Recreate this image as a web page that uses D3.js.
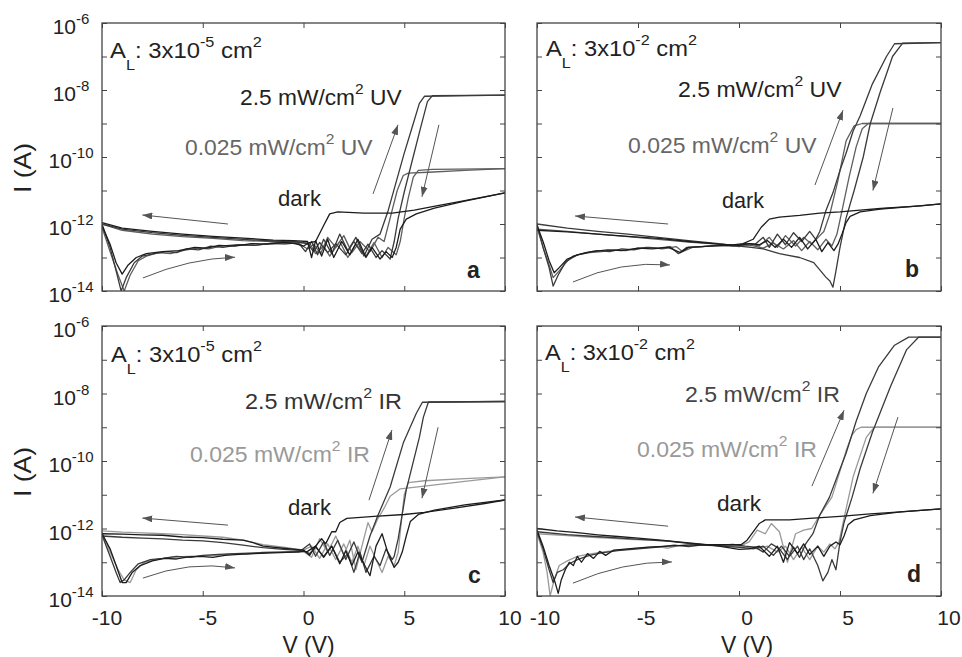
<!DOCTYPE html>
<html><head><meta charset="utf-8">
<script src="https://cdn.jsdelivr.net/npm/d3@7"></script>
<style>
body{margin:0;background:#fff}
svg{display:block}
text{font-family:"Liberation Sans",Arial,Helvetica,sans-serif}
</style>
</head><body>
<svg id="chart" width="962" height="657"></svg>
<script>
// ---------------- DATA (V in volts, I in amperes) ----------------
const V_TICKS = [-10, -5, 0, 5, 10];
const I_TICKS = [1e-14, 1e-13, 1e-12, 1e-11, 1e-10, 1e-9, 1e-8, 1e-7, 1e-6];
const I_LABEL_EXP = [-14, -12, -10, -8, -6];
const X_LABELS = ["-10", "-5", "0", "5", "10"];

// Panel a : A_L 3x10^-5 cm^2, UV
const aDarkF = [[-10,9e-13],[-9.6,2.5e-13],[-9.3,7e-14],[-9.0,3.2e-14],[-8.7,6e-14],[-8.3,1e-13],[-7.8,1.3e-13],[-7,1.5e-13],[-6.2,1.6e-13],[-5.4,2e-13],[-4.8,1.9e-13],[-4.2,2.3e-13],[-3.4,2.2e-13],[-2.6,2.6e-13],[-1.8,2.5e-13],[-1,2.8e-13],[-0.4,2.6e-13],[0,2.2e-13],[0.3,2.8e-13],[0.6,3e-13],[1.0,9e-13],[1.3,2e-12],[1.7,2.3e-12],[3,2.1e-12],[4.4,2.1e-12],[5.5,2.6e-12],[6.4,3.3e-12],[8,5e-12],[10,8.5e-12]];
const aDarkB = [[10,8.5e-12],[8,4.8e-12],[6.5,3e-12],[5.6,2e-12],[5.1,1.4e-12],[4.8,7e-13],[4.6,2e-13],[4.4,1e-13],[4.1,1.5e-13],[3.8,9e-14],[3.4,2e-13],[3.1,1e-13],[2.7,3.5e-13],[2.3,1.2e-13],[1.9,3e-13],[1.5,1e-13],[1.2,3.5e-13],[0.9,1.1e-13],[0.6,3.2e-13],[0.4,1e-13],[0.2,3e-13],[-0.5,3.2e-13],[-1.5,3.3e-13],[-3,3.8e-13],[-4.5,4.3e-13],[-6,5e-13],[-7.5,6e-13],[-9,7.5e-13],[-10,1.1e-12]];
const aHighF = [[-10,1e-12],[-9.6,2e-13],[-9.3,4e-14],[-9.05,1e-14],[-8.8,2.5e-14],[-8.4,7e-14],[-8,1.1e-13],[-7.4,1.3e-13],[-6.8,1.5e-13],[-6.3,1.4e-13],[-5.8,1.8e-13],[-5.2,1.7e-13],[-4.6,2.2e-13],[-4,2e-13],[-3.2,2.4e-13],[-2.4,2.3e-13],[-1.6,2.7e-13],[-0.8,2.8e-13],[-0.2,2.5e-13],[0.1,1.5e-13],[0.4,3e-13],[0.7,1.2e-13],[1.0,3.5e-13],[1.4,1.3e-13],[1.8,5e-13],[2.2,1.6e-13],[2.6,4e-13],[3.0,1.1e-13],[3.4,3.5e-13],[3.8,5e-13],[4.2,2.5e-12],[4.6,1.8e-11],[5.0,1.3e-10],[5.4,8e-10],[5.75,4e-9],[6.0,6.5e-9],[10,7e-9]];
const aHighB = [[10,7e-9],[6.4,6.8e-9],[6.15,4.5e-9],[5.8,7e-10],[5.4,8e-11],[5.0,9e-12],[4.7,1.5e-12],[4.5,3e-13],[4.3,9e-14],[3.9,1.6e-13],[3.6,1e-13],[3.2,2.5e-13],[2.9,1.3e-13],[2.5,3e-13],[2.1,1.2e-13],[1.6,2.6e-13],[1.2,1.4e-13],[0.8,2.8e-13],[0.5,1.5e-13],[0.2,2.6e-13],[-0.5,3e-13],[-1.5,3.1e-13],[-3,3.5e-13],[-4.5,4e-13],[-6,4.6e-13],[-7.5,5.5e-13],[-9,7e-13],[-10,1e-12]];
const aLowF = [[-10,8e-13],[-9.6,1.5e-13],[-9.2,3e-14],[-8.9,1e-14],[-8.6,3e-14],[-8.2,8e-14],[-7.8,1.1e-13],[-7.2,1.4e-13],[-6.6,1.3e-13],[-6,1.6e-13],[-5.3,1.9e-13],[-4.7,1.8e-13],[-4.1,2.2e-13],[-3.3,2.4e-13],[-2.5,2.3e-13],[-1.7,2.6e-13],[-0.9,2.5e-13],[-0.3,2.8e-13],[0.2,1.8e-13],[0.5,2.5e-13],[0.85,1.3e-13],[1.2,4e-13],[1.6,2e-13],[2.0,4.5e-13],[2.4,1.4e-13],[2.8,3e-13],[3.3,1.5e-13],[3.7,4e-13],[4.0,3e-13],[4.3,1.5e-12],[4.65,1e-11],[4.95,2.8e-11],[5.2,3.3e-11],[6.2,3.5e-11],[8,4e-11],[10,4.5e-11]];
const aLowB = [[10,4.5e-11],[6.4,4.3e-11],[5.7,4e-11],[5.45,2.5e-11],[5.2,6e-12],[5.0,1.5e-12],[4.8,3e-13],[4.6,1.2e-13],[4.2,2e-13],[3.9,1e-13],[3.5,2.8e-13],[3.1,1.1e-13],[2.6,2.5e-13],[2.2,1e-13],[1.8,3e-13],[1.3,1.1e-13],[1.0,2.2e-13],[0.6,1.3e-13],[0.3,2.7e-13],[-0.5,2.9e-13],[-1.5,3e-13],[-3,3.2e-13],[-4.5,3.7e-13],[-6,4.2e-13],[-7.5,5e-13],[-9,6.5e-13],[-10,1e-12]];

// Panel b : A_L 3x10^-2 cm^2, UV
const bDarkF = [[-10,9e-13],[-9.7,3e-13],[-9.4,8e-14],[-9.15,3.5e-14],[-8.9,5e-14],[-8.5,9e-14],[-8,1.2e-13],[-7.3,1.5e-13],[-6.5,1.7e-13],[-5.8,1.6e-13],[-5,1.9e-13],[-4.3,1.8e-13],[-3.5,2e-13],[-2.9,1.4e-13],[-2.5,2e-13],[-1.5,2.2e-13],[-0.5,2.3e-13],[0.2,2.6e-13],[0.7,3.5e-13],[1.1,8e-13],[1.5,1.4e-12],[2.0,1.6e-12],[3,1.8e-12],[4,2.1e-12],[5,2.3e-12],[6,2.6e-12],[7,2.9e-12],[8,3.2e-12],[9,3.5e-12],[10,4e-12]];
const bDarkB = [[10,4e-12],[8.5,3.3e-12],[7,2.8e-12],[6,2.3e-12],[5.5,1.7e-12],[5.3,1.1e-12],[5.1,5e-13],[4.9,2.5e-13],[4.7,1.6e-13],[4.4,2.8e-13],[4.1,1.5e-13],[3.8,3.5e-13],[3.4,1.8e-13],[3.0,4e-13],[2.6,2e-13],[2.2,3.5e-13],[1.8,2e-13],[1.4,3.2e-13],[1.0,2.4e-13],[0.5,2.6e-13],[0,2.3e-13],[-1,2.5e-13],[-2.5,3e-13],[-4,3.7e-13],[-5.5,4.3e-13],[-7,5e-13],[-8.5,5.8e-13],[-10,6.5e-13]];
const bHighF = [[-10,1e-12],[-9.7,2e-13],[-9.4,5e-14],[-9.2,1.4e-14],[-8.95,3e-14],[-8.6,7e-14],[-8.2,1.1e-13],[-7.6,1.4e-13],[-7,1.6e-13],[-6.4,1.5e-13],[-5.8,1.8e-13],[-5.2,1.7e-13],[-4.6,2e-13],[-4,1.9e-13],[-3.4,2.1e-13],[-3.0,1.3e-13],[-2.6,2e-13],[-1.8,2.1e-13],[-1,2.3e-13],[-0.3,2.2e-13],[0.3,2.6e-13],[0.8,2.5e-13],[1.2,4e-13],[1.5,2e-13],[1.9,5e-13],[2.3,2.4e-13],[2.7,5.5e-13],[3.1,3e-13],[3.5,6e-13],[3.8,3.5e-13],[4.0,6e-13],[4.3,2.5e-12],[4.65,8.5e-12],[5.0,4e-11],[5.3,1.3e-10],[5.65,6e-10],[6.0,1.7e-9],[6.6,1.5e-8],[7.3,1e-7],[7.7,2.4e-7],[10,2.6e-7]];
const bHighB = [[10,2.6e-7],[8.1,2.5e-7],[7.6,1e-7],[7.0,9e-9],[6.5,1e-9],[6.15,1e-10],[5.7,1e-11],[5.3,1.5e-12],[5.0,2e-13],[4.8,4e-14],[4.65,1.3e-14],[4.5,2e-14],[4.3,2.6e-14],[3.7,7e-14],[3.0,1e-13],[2.0,1.3e-13],[1.2,1.8e-13],[0.6,2e-13],[0,2.2e-13],[-1,2.6e-13],[-2.5,3.2e-13],[-4,4e-13],[-5.5,5e-13],[-7,6e-13],[-8.5,7.5e-13],[-10,1e-12]];
const bLowF = [[-10,8e-13],[-9.7,2e-13],[-9.4,6e-14],[-9.2,2.5e-14],[-8.9,4e-14],[-8.5,8e-14],[-8,1.2e-13],[-7.4,1.4e-13],[-6.8,1.5e-13],[-6.2,1.7e-13],[-5.6,1.6e-13],[-5,1.9e-13],[-4.4,2e-13],[-3.8,1.8e-13],[-3.1,2.1e-13],[-2.8,1.5e-13],[-2.3,2e-13],[-1.5,2.2e-13],[-0.6,2.4e-13],[0,2.1e-13],[0.5,2.6e-13],[1.0,2.2e-13],[1.5,4e-13],[1.9,2e-13],[2.3,4.5e-13],[2.8,2.2e-13],[3.2,4e-13],[3.6,2.5e-13],[4.0,4.5e-13],[4.2,6e-13],[4.5,2e-12],[4.9,2e-11],[5.3,3e-10],[5.7,8.5e-10],[6.1,1e-9],[10,1e-9]];
const bLowB = [[10,1e-9],[6.4,1e-9],[6.1,7e-10],[5.8,2e-10],[5.45,2.5e-11],[5.1,2.5e-12],[4.85,5e-13],[4.6,2.2e-13],[4.3,3.5e-13],[3.9,1.7e-13],[3.5,3e-13],[3.1,1.6e-13],[2.7,3.2e-13],[2.2,1.8e-13],[1.7,2.7e-13],[1.2,1.9e-13],[0.6,2.3e-13],[0,2.2e-13],[-1,2.5e-13],[-2.5,2.9e-13],[-4,3.5e-13],[-5.5,4.2e-13],[-7,5e-13],[-8.5,6e-13],[-10,7e-13]];

// Panel c : A_L 3x10^-5 cm^2, IR
const cDarkF = [[-10,7e-13],[-9.6,2.5e-13],[-9.3,8e-14],[-9.0,2.5e-14],[-8.8,2.5e-14],[-8.5,5e-14],[-8.1,8e-14],[-7.5,1.1e-13],[-6.9,1.3e-13],[-6.3,1.25e-13],[-5.7,1.45e-13],[-5.1,1.5e-13],[-4.5,1.4e-13],[-3.9,1.6e-13],[-3.2,1.7e-13],[-2.5,1.8e-13],[-1.5,1.9e-13],[-0.5,2e-13],[0.2,2.1e-13],[0.6,3e-13],[0.9,5e-13],[1.1,3.5e-13],[1.4,8e-13],[1.6,8e-13],[1.8,1.5e-12],[2.15,2e-12],[3.5,2.3e-12],[5,2.6e-12],[6,3e-12],[7.5,4e-12],[9,5.5e-12],[10,7e-12]];
const cDarkB = [[10,7e-12],[8,5e-12],[6.5,3.5e-12],[5.7,2.6e-12],[5.3,1.6e-12],[5.1,6e-13],[4.9,2e-13],[4.7,1e-13],[4.5,7e-14],[4.2,1.8e-13],[3.9,7e-13],[3.6,3e-13],[3.3,4e-14],[3.0,9e-14],[2.7,2e-13],[2.4,8e-14],[2.1,2.2e-13],[1.8,9e-14],[1.4,3e-13],[1.0,1.4e-13],[0.6,3e-13],[0.3,1.6e-13],[0,2.3e-13],[-1,2.6e-13],[-2,3e-13],[-2.5,3.8e-13],[-3,4.5e-13],[-4,4.8e-13],[-5,5.4e-13],[-6,5.6e-13],[-7,6.3e-13],[-8,6.5e-13],[-9,6.8e-13],[-10,7e-13]];
const cHighF = [[-10,6.5e-13],[-9.6,1.5e-13],[-9.3,5e-14],[-9.1,2.5e-14],[-8.9,3e-14],[-8.6,5e-14],[-8.2,9e-14],[-7.6,1.2e-13],[-7,1.3e-13],[-6.3,1.5e-13],[-5.6,1.4e-13],[-5.0,1.6e-13],[-4.2,1.7e-13],[-3.4,1.8e-13],[-2.4,1.9e-13],[-1.2,2e-13],[-0.2,2.05e-13],[0.3,3.5e-13],[0.6,1.5e-13],[1.0,4e-13],[1.3,1.6e-13],[1.7,4.5e-13],[2.1,1.2e-13],[2.5,4e-13],[2.9,1e-13],[3.3,6e-13],[3.7,2.5e-12],[4.3,1.7e-11],[4.95,3.4e-10],[5.6,2.6e-9],[5.9,5.5e-9],[10,5.8e-9]];
const cHighB = [[10,5.8e-9],[6.2,5.6e-9],[5.95,2e-9],[5.75,5e-10],[5.1,1.4e-11],[4.7,5e-13],[4.5,1.5e-13],[4.4,1.2e-13],[4.1,2.5e-13],[3.8,8e-14],[3.5,1.5e-13],[3.1,5e-14],[2.8,2e-13],[2.5,5e-14],[2.2,1.8e-13],[1.8,1e-13],[1.4,3e-13],[1.0,1.5e-13],[0.6,2.8e-13],[0.3,1.8e-13],[0,2.2e-13],[-1,2.4e-13],[-2,2.7e-13],[-3,3.2e-13],[-4,3.8e-13],[-5,4.3e-13],[-6,4.5e-13],[-7,4.9e-13],[-8,5.2e-13],[-9,5.5e-13],[-10,6e-13]];
const cLowF = [[-10,8e-13],[-9.6,2e-13],[-9.2,6e-14],[-8.9,3e-14],[-8.6,2.5e-14],[-8.3,6e-14],[-7.9,1e-13],[-7.3,1.2e-13],[-6.6,1.4e-13],[-5.8,1.5e-13],[-5,1.55e-13],[-4.2,1.6e-13],[-3.5,1.8e-13],[-2.8,1.7e-13],[-2,2e-13],[-1,2e-13],[0,2.1e-13],[0.4,1.4e-13],[0.8,5e-13],[1.2,2e-13],[1.6,6e-13],[2.0,1.6e-13],[2.3,4.5e-13],[2.6,6e-14],[2.9,3e-13],[3.2,1.5e-12],[3.4,8e-13],[3.7,2e-12],[4.0,4e-12],[4.3,9e-12],[4.8,1.5e-11],[6,1.8e-11],[8,2.5e-11],[10,3.4e-11]];
const cLowB = [[10,3.4e-11],[8,3e-11],[6,2.6e-11],[5.2,2.3e-11],[5.0,1e-11],[4.85,1.5e-12],[4.7,2e-13],[4.5,8e-14],[4.2,1.5e-13],[3.9,5e-14],[3.6,1.2e-13],[3.3,3e-13],[3.0,8e-14],[2.7,3e-13],[2.4,1e-13],[2.0,3.5e-13],[1.6,1.2e-13],[1.2,3.5e-13],[0.8,1.3e-13],[0.4,3e-13],[0,2.3e-13],[-1,2.8e-13],[-2,3.3e-13],[-3,4.5e-13],[-4,5.5e-13],[-5,6e-13],[-6,6.6e-13],[-7,7e-13],[-8,7.4e-13],[-9,7.8e-13],[-10,8.5e-13]];

// Panel d : A_L 3x10^-2 cm^2, IR
const dDarkF = [[-10,9e-13],[-9.7,3e-13],[-9.4,8e-14],[-9.1,2.5e-14],[-8.95,1.2e-14],[-8.8,3e-14],[-8.6,6e-14],[-8.4,1e-13],[-8.2,8e-14],[-8,1.5e-13],[-7.8,1e-13],[-7.5,1.8e-13],[-7.2,1.3e-13],[-6.9,2.1e-13],[-6.6,1.6e-13],[-6.2,2.3e-13],[-5.5,2.5e-13],[-4.5,2.8e-13],[-3.5,3e-13],[-2.5,3.2e-13],[-1.5,3.3e-13],[-0.5,3.3e-13],[0.1,3.3e-13],[0.4,4.5e-13],[0.7,8e-13],[1.0,1.4e-12],[1.3,1.8e-12],[1.6,1.8e-12],[2.5,1.8e-12],[3.5,2e-12],[5,2.3e-12],[6.5,2.7e-12],[8,3.1e-12],[10,3.8e-12]];
const dDarkB = [[10,3.8e-12],[8,3.1e-12],[6.5,2.4e-12],[5.7,1.8e-12],[5.4,1.3e-12],[5.2,6e-13],[5.0,3.3e-13],[4.8,4e-13],[4.5,3e-13],[4.2,1.5e-13],[3.9,3e-13],[3.5,1.7e-13],[3.2,3.5e-13],[2.9,1.8e-13],[2.5,3.8e-13],[2.2,1e-13],[1.9,3e-13],[1.5,1.5e-13],[1.0,3e-13],[0.5,2.5e-13],[0,2.4e-13],[-1,3e-13],[-2,3.5e-13],[-3,4e-13],[-4,4.6e-13],[-5,5.2e-13],[-6,5.8e-13],[-7,6.5e-13],[-8,7.5e-13],[-9,8.5e-13],[-10,1e-12]];
const dHighF = [[-10,8e-13],[-9.7,2.5e-13],[-9.4,6e-14],[-9.2,2.5e-14],[-9.0,5e-14],[-8.7,6e-14],[-8.4,9e-14],[-8,1.2e-13],[-7.4,1.6e-13],[-6.8,1.9e-13],[-6,2.2e-13],[-5,2.5e-13],[-4,2.8e-13],[-3.2,3.2e-13],[-2.5,2.9e-13],[-1.8,3.3e-13],[-1,3.2e-13],[-0.3,3.4e-13],[0.3,3e-13],[0.8,2.8e-13],[1.2,2e-13],[1.6,3.5e-13],[2.0,2.5e-13],[2.4,1.2e-13],[2.7,2.8e-13],[3.0,1.4e-13],[3.3,3.5e-13],[3.66,7e-13],[4.0,2.5e-12],[4.48,8.5e-12],[4.9,4e-11],[5.3,1.7e-10],[5.8,1.5e-9],[6.3,1e-8],[6.9,6e-8],[7.7,2.7e-7],[8.4,4.7e-7],[10,4.7e-7]];
const dHighB = [[10,4.7e-7],[8.9,4.7e-7],[8.3,2e-7],[7.5,1.6e-8],[6.6,7e-10],[6.0,6e-11],[5.6,8.5e-12],[5.2,1.5e-12],[5.0,4e-13],[4.8,6e-14],[4.6,1.2e-13],[4.4,5e-14],[4.15,2.8e-14],[3.9,8e-14],[3.5,2.5e-13],[3.2,1.2e-13],[2.9,3e-13],[2.5,1.5e-13],[2.1,3e-13],[1.7,1.6e-13],[1.2,3e-13],[0.7,2.5e-13],[0.2,2.7e-13],[-0.5,2.9e-13],[-1.5,3.2e-13],[-2.5,3.6e-13],[-3.5,4.2e-13],[-4.5,4.6e-13],[-5.5,5e-13],[-6.5,5.5e-13],[-7.5,6e-13],[-8.5,6.6e-13],[-10,8e-13]];
const dLowF = [[-10,7e-13],[-9.7,2e-13],[-9.5,5e-14],[-9.35,1e-14],[-9.15,3e-14],[-8.9,8e-14],[-8.5,1.1e-13],[-8,1.5e-13],[-7.5,1.7e-13],[-6.8,2e-13],[-6,2.3e-13],[-5,2.6e-13],[-4,2.9e-13],[-3.5,2.6e-13],[-3,3.1e-13],[-2.2,3.4e-13],[-1.4,3.1e-13],[-0.6,3.3e-13],[0,2.9e-13],[0.5,4e-13],[0.9,9e-13],[1.3,7e-13],[1.6,1.4e-12],[2.0,8e-13],[2.4,1e-13],[2.8,7e-13],[3.2,9e-13],[3.6,1e-12],[4.0,2.5e-12],[4.6,8.5e-12],[5.0,5e-11],[5.3,2e-10],[5.6,6e-10],[5.8,8.5e-10],[6.05,1e-9],[10,1e-9]];
const dLowB = [[10,1e-9],[6.7,1e-9],[6.3,5e-10],[5.65,3.4e-11],[5.2,2e-12],[4.95,4e-13],[4.75,2.5e-13],[4.5,3.5e-13],[4.2,2e-13],[3.9,3e-13],[3.5,1.2e-13],[3.1,2.8e-13],[2.7,1.2e-13],[2.3,3e-13],[1.9,2e-13],[1.4,3e-13],[0.9,2.5e-13],[0.4,2.8e-13],[-0.5,3e-13],[-1.5,3.3e-13],[-2.5,3.7e-13],[-3.5,4.2e-13],[-4.5,4.5e-13],[-5.5,4.8e-13],[-6.5,5.2e-13],[-7.5,5.6e-13],[-8.5,6.2e-13],[-10,7e-13]];

// Sweep-direction arrows: [V0, I0, V1, I1] or curved [V0, I0, Vc, Ic, V1, I1]
const aArrows = [[-3.75,1e-12,-8.0,1.86e-12],[-7.97,2.45e-14,-5.68,9.3e-14,-3.4,1.02e-13],[3.45,7.9e-12,4.69,9.1e-10],[6.72,9.1e-10,5.88,6.5e-12]];
const bArrows = [[-3.51,1e-12,-8.12,1.74e-12],[-8.22,1.86e-14,-5.84,8.1e-14,-3.42,6e-14],[3.76,1.45e-11,5.15,2.5e-9],[7.62,2.9e-9,6.63,1e-11]];
const cArrows = [[-3.75,1.26e-12,-8.0,2.04e-12],[-7.97,3.4e-14,-5.68,1.1e-13,-3.4,6.8e-14],[3.25,6.9e-12,4.39,8.3e-10],[6.68,1e-9,5.88,7.9e-12]];
const dArrows = [[-3.51,1.17e-12,-8.12,2.2e-12],[-8.22,2.4e-14,-5.77,1.05e-13,-3.32,1.02e-13],[3.61,1.8e-11,5.2,3.2e-9],[7.87,2e-9,6.63,1.1e-11]];

// ---------------- STYLE / LAYOUT ----------------
const COL_DARK = "#1c1c1c", COL_HIGH = "#3a3a3a", COL_UV_LOW = "#5e5e5e", COL_IR_LOW = "#9a9a9a";
const panels = [
  {id:"a", x0:102, x1:505, y0:23, y1:291, yLabels:true, xLabels:false, xLabOff:5,
   curves:[[aLowF,COL_UV_LOW],[aLowB,COL_UV_LOW],[aHighF,COL_HIGH],[aHighB,COL_HIGH],[aDarkF,COL_DARK],[aDarkB,COL_DARK]],
   arrows:aArrows, area:"-5", light:"UV",
   txt:{al:[110,58,152], hi:[240,105,162,"#222"], lo:[185,155,188,"#666"], dark:[278,206,44], letter:[467,278]}},
  {id:"b", x0:537, x1:941, y0:23, y1:291, yLabels:false, xLabels:false, xLabOff:8,
   curves:[[bLowF,COL_UV_LOW],[bLowB,COL_UV_LOW],[bHighF,COL_HIGH],[bHighB,COL_HIGH],[bDarkF,COL_DARK],[bDarkB,COL_DARK]],
   arrows:bArrows, area:"-2", light:"UV",
   txt:{al:[546,56,151], hi:[678,97,164,"#222"], lo:[628,153,189,"#666"], dark:[722,208,43], letter:[905,277]}},
  {id:"c", x0:102, x1:505, y0:326, y1:596, yLabels:true, xLabels:true, xLabOff:5,
   curves:[[cLowF,COL_IR_LOW],[cLowB,COL_IR_LOW],[cHighF,COL_HIGH],[cHighB,COL_HIGH],[cDarkF,COL_DARK],[cDarkB,COL_DARK]],
   arrows:cArrows, area:"-5", light:"IR",
   txt:{al:[111,362,151], hi:[245,409,157,"#333"], lo:[190,462,180,"#999"], dark:[288,515,44], letter:[468,583]}},
  {id:"d", x0:537, x1:941, y0:326, y1:596, yLabels:false, xLabels:true, xLabOff:8,
   curves:[[dLowF,COL_IR_LOW],[dLowB,COL_IR_LOW],[dHighF,COL_HIGH],[dHighB,COL_HIGH],[dDarkF,COL_DARK],[dDarkB,COL_DARK]],
   arrows:dArrows, area:"-2", light:"IR",
   txt:{al:[545,360,150], hi:[685,402,155,"#444"], lo:[637,457,180,"#999"], dark:[717,511,45], letter:[907,582]}}
];

const svg = d3.select("#chart");
const defs = svg.append("defs");
defs.append("marker").attr("id","ah").attr("viewBox","0 0 10 7").attr("refX",10).attr("refY",3.5)
  .attr("markerWidth",10).attr("markerHeight",7).attr("markerUnits","userSpaceOnUse").attr("orient","auto")
  .append("path").attr("d","M0,0L10,3.5L0,7Z").attr("fill","#555");

// rich text helper: parts = [[text, mode]] mode: 0 normal, 1 sup, -1 sub
function rich(g, parts, x, y, opt) {
  const size = opt.size || 18;
  const t = g.append("text").attr("fill", opt.fill || "#222").attr("font-size", size)
    .attr("font-weight", opt.weight || "normal").attr("text-anchor", opt.anchor || "start");
  let shift = 0;
  parts.forEach(([s, m]) => {
    const target = m === 1 ? -(opt.supShift || 0.55*size) : m === -1 ? (opt.subShift || 0.55*size) : 0;
    t.append("tspan").text(s).attr("dy", target - shift)
      .attr("font-size", m === 0 ? size : (opt.smallSize || 0.72*size));
    shift = target;
  });
  if (opt.width) {
    const w = t.node().getBBox().width;
    t.attr("transform", `translate(${x},${y}) scale(${opt.width / w},1)`);
  } else {
    t.attr("x", x).attr("y", y);
  }
  return t;
}

panels.forEach(p => {
  const x = d3.scaleLinear().domain([-10, 10]).range([p.x0, p.x1]);
  const y = d3.scaleLog().domain([1e-14, 1e-6]).range([p.y1, p.y0]);
  const g = svg.append("g");
  const clipId = "clip" + p.id;
  defs.append("clipPath").attr("id", clipId).append("rect")
    .attr("x", p.x0).attr("y", p.y0).attr("width", p.x1 - p.x0).attr("height", p.y1 - p.y0);

  // curves
  const line = d3.line().x(d => x(d[0])).y(d => y(d[1]));
  const cg = g.append("g").attr("clip-path", `url(#${clipId})`);
  p.curves.forEach(([data, col]) => {
    cg.append("path").datum(data).attr("d", line).attr("fill", "none")
      .attr("stroke", col).attr("stroke-width", 1.3).attr("stroke-linejoin", "round");
  });

  // arrows
  p.arrows.forEach(a => {
    let d;
    if (a.length === 4) d = `M${x(a[0])},${y(a[1])}L${x(a[2])},${y(a[3])}`;
    else d = `M${x(a[0])},${y(a[1])}Q${x(a[2])},${y(a[3])} ${x(a[4])},${y(a[5])}`;
    g.append("path").attr("d", d).attr("fill", "none").attr("stroke", "#555")
      .attr("stroke-width", 1).attr("marker-end", "url(#ah)");
  });

  // axes (inward ticks on all four sides)
  const tc = "#444";
  const ax = [
    [d3.axisBottom(x).tickValues(V_TICKS), `translate(0,${p.y1})`],
    [d3.axisTop(x).tickValues(V_TICKS), `translate(0,${p.y0})`],
    [d3.axisLeft(y).tickValues(I_TICKS), `translate(${p.x0},0)`],
    [d3.axisRight(y).tickValues(I_TICKS), `translate(${p.x1},0)`]
  ];
  ax.forEach(([axis, tr]) => {
    const a = g.append("g").attr("transform", tr)
      .call(axis.tickSizeInner(-5).tickSizeOuter(0).tickFormat(""));
    a.select(".domain").remove();
    a.selectAll("line").attr("stroke", tc).attr("stroke-width", 1);
  });
  g.append("rect").attr("x", p.x0).attr("y", p.y0).attr("width", p.x1 - p.x0).attr("height", p.y1 - p.y0)
    .attr("fill", "none").attr("stroke", tc).attr("stroke-width", 1.3);

  // tick labels
  if (p.yLabels) {
    I_LABEL_EXP.forEach(e => {
      rich(g, [["10", 0], [String(e), 1]], 71, y(Math.pow(10, e)) + 11,
        {size: 21, anchor: "middle", smallSize: 15, supShift: 10, fill: "#222"});
    });
    const lab = g.append("text").attr("font-size", 24).attr("fill", "#222").attr("text-anchor", "middle").text("I (A)");
    const w = lab.node().getBBox().width;
    const cy = (p.y0 + p.y1) / 2 + 11;
    lab.attr("transform", `translate(31,${cy}) rotate(-90) scale(${50 / w},1)`);
  }
  if (p.xLabels) {
    V_TICKS.forEach((v, i) => {
      g.append("text").attr("x", x(v) + p.xLabOff).attr("y", p.y1 + 29).attr("text-anchor", "middle")
        .attr("font-size", 21).attr("fill", "#222").text(X_LABELS[i]);
    });
    const lab = g.append("text").attr("font-size", 23).attr("fill", "#222").attr("text-anchor", "middle").text("V (V)");
    const w = lab.node().getBBox().width;
    lab.attr("transform", `translate(${(p.x0 + p.x1) / 2 + p.xLabOff},653) scale(${52 / w},1)`);
  }

  // annotations
  const T = p.txt;
  rich(g, [["A", 0], ["L", -1], [": 3x10", 0], [p.area, 1], [" cm", 0], ["2", 1]], T.al[0], T.al[1],
    {size: 22, width: T.al[2], fill: "#222", smallSize: 15, supShift: 11, subShift: 12});
  rich(g, [["2.5 mW/cm", 0], ["2", 1], [" " + p.light, 0]], T.hi[0], T.hi[1],
    {size: 22, width: T.hi[2], fill: T.hi[3], smallSize: 15, supShift: 11});
  rich(g, [["0.025 mW/cm", 0], ["2", 1], [" " + p.light, 0]], T.lo[0], T.lo[1],
    {size: 22, width: T.lo[2], fill: T.lo[3], smallSize: 15, supShift: 11});
  rich(g, [["dark", 0]], T.dark[0], T.dark[1], {size: 22, width: T.dark[2], fill: "#222"});
  g.append("text").attr("x", T.letter[0]).attr("y", T.letter[1]).attr("font-size", 23)
    .attr("font-weight", "bold").attr("fill", "#222").text(p.id);
});
</script>
</body></html>
